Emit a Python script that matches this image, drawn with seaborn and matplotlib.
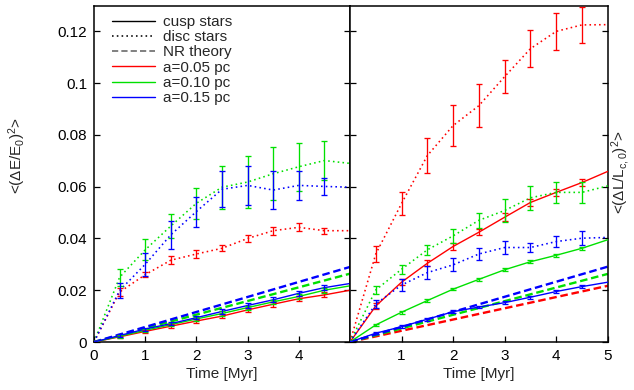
import numpy as np
import pandas as pd
import matplotlib
matplotlib.use("Agg")
import matplotlib.pyplot as plt
from matplotlib.lines import Line2D
import seaborn as sns

# ---- data -------------------------------------------------------------
time = [0.0, 0.5, 1.0, 1.5, 2.0, 2.5, 3.0, 3.5, 4.0, 4.5, 5.0]
theory_time = [0.0, 5.0]
radii = ["a=0.05 pc", "a=0.10 pc", "a=0.15 pc"]

# <(dE/E0)^2>, cusp stars
dE_cusp_005 = [0, 0.0020, 0.0041, 0.0061, 0.0081, 0.0100, 0.0124, 0.0146, 0.0167, 0.0182, 0.0200]
dE_cusp_010 = [0, 0.0022, 0.0045, 0.0067, 0.0089, 0.0110, 0.0133, 0.0155, 0.0176, 0.0200, 0.0217]
dE_cusp_015 = [0, 0.0025, 0.0050, 0.0071, 0.0094, 0.0118, 0.0141, 0.0163, 0.0188, 0.0210, 0.0226]
dE_cusp_err = [0, 0.0006, 0.0006, 0.0007, 0.0007, 0.0008, 0.0008, 0.0009, 0.0009, 0.0010, 0]

# <(dE/E0)^2>, disc stars
dE_disc_005 = [0, 0.0193, 0.0260, 0.0316, 0.0340, 0.0362, 0.0400, 0.0430, 0.0443, 0.0430, 0.0430]
dE_disc_010 = [0, 0.0250, 0.0356, 0.0448, 0.0536, 0.0598, 0.0618, 0.0650, 0.0677, 0.0701, 0.0690]
dE_disc_015 = [0, 0.0199, 0.0300, 0.0414, 0.0504, 0.0590, 0.0605, 0.0587, 0.0605, 0.0601, 0.0598]
dE_disc_005_err = [0, 0.0015, 0.0009, 0.0015, 0.0015, 0.0012, 0.0015, 0.0015, 0.0015, 0.0012, 0]
dE_disc_010_err = [0, 0.0032, 0.0040, 0.0045, 0.0060, 0.0083, 0.0100, 0.0102, 0.0092, 0.0075, 0]
dE_disc_015_err = [0, 0.0030, 0.0045, 0.0054, 0.0058, 0.0070, 0.0074, 0.0075, 0.0055, 0.0034, 0]

# <(dE/E0)^2>, non-resonant relaxation theory (a=0.10 and a=0.15 pc)
dE_theory_010 = [0, 0.0264]
dE_theory_015 = [0, 0.0290]

# <(dL/Lc0)^2>, cusp stars
dL_cusp_005 = [0, 0.0139, 0.0231, 0.0304, 0.0369, 0.0424, 0.0482, 0.0539, 0.0578, 0.0616, 0.0659]
dL_cusp_010 = [0, 0.0066, 0.0115, 0.0160, 0.0204, 0.0242, 0.0279, 0.0310, 0.0335, 0.0362, 0.0395]
dL_cusp_015 = [0, 0.0034, 0.0059, 0.0088, 0.0117, 0.0135, 0.0152, 0.0173, 0.0195, 0.0214, 0.0231]
dL_cusp_005_err = [0, 0.0010, 0.0012, 0.0012, 0.0012, 0.0012, 0.0015, 0.0015, 0.0015, 0.0015, 0]
dL_cusp_err = [0, 0.0005, 0.0005, 0.0005, 0.0005, 0.0005, 0.0005, 0.0005, 0.0006, 0.0006, 0]

# <(dL/Lc0)^2>, disc stars
dL_disc_005 = [0, 0.0340, 0.0535, 0.0720, 0.0836, 0.0913, 0.1025, 0.1133, 0.1200, 0.1225, 0.1226]
dL_disc_010 = [0, 0.0201, 0.0281, 0.0356, 0.0410, 0.0470, 0.0508, 0.0557, 0.0578, 0.0578, 0.0603]
dL_disc_015 = [0, 0.0147, 0.0220, 0.0268, 0.0298, 0.0340, 0.0365, 0.0365, 0.0388, 0.0401, 0.0404]
dL_disc_005_err = [0, 0.0030, 0.0045, 0.0068, 0.0078, 0.0084, 0.0064, 0.0072, 0.0071, 0.0071, 0]
dL_disc_010_err = [0, 0.0017, 0.0018, 0.0020, 0.0027, 0.0030, 0.0046, 0.0046, 0.0042, 0.0042, 0]
dL_disc_015_err = [0, 0.0017, 0.0022, 0.0025, 0.0025, 0.0025, 0.0026, 0.0018, 0.0020, 0.0027, 0]

# <(dL/Lc0)^2>, non-resonant relaxation theory
dL_theory_005 = [0, 0.0217]
dL_theory_010 = [0, 0.0263]
dL_theory_015 = [0, 0.0291]

# ---- style ------------------------------------------------------------
sns.set_theme(style="white")
plt.rcParams["font.family"] = ["Liberation Sans", "DejaVu Sans"]
plt.rcParams["mathtext.fontset"] = "custom"
plt.rcParams["mathtext.rm"] = "Liberation Sans"
plt.rcParams["mathtext.it"] = "Liberation Sans"
FS = 11

palette = dict(zip(radii, ["#ff0000", "#00e000", "#0000ff"]))
DOT = (1.0, 2.0)
DASH = (3.2, 1.6)


def long_frame(t, labels, series):
    rows = []
    for label, vals in zip(labels, series):
        for x, y in zip(t, vals):
            rows.append({"time": x, "value": y, "radius": label})
    return pd.DataFrame(rows)


def draw_panel(ax, cusp, cusp_err, disc, disc_err, theory_labels, theory):
    # theory (dashed) underneath
    sns.lineplot(data=long_frame(theory_time, theory_labels, theory),
                 x="time", y="value", hue="radius", palette=palette,
                 legend=False, ax=ax, linewidth=1.7, errorbar=None, zorder=1)
    for ln in ax.lines:
        ln.set_dashes(DASH)
    # cusp stars (solid)
    sns.lineplot(data=long_frame(time, radii, cusp), x="time", y="value",
                 hue="radius", palette=palette, legend=False, ax=ax,
                 linewidth=1.0, errorbar=None, zorder=3)
    n1 = len(ax.lines)
    # disc stars (dotted)
    sns.lineplot(data=long_frame(time, radii, disc), x="time", y="value",
                 hue="radius", palette=palette, legend=False, ax=ax,
                 linewidth=1.15, errorbar=None, zorder=3)
    for ln in ax.lines[n1:]:
        ln.set_dashes(DOT)
    # error bars at the sampled times
    for vals_set, errs_set in ((cusp, cusp_err), (disc, disc_err)):
        for label, vals, errs in zip(radii, vals_set, errs_set):
            t = np.array(time[1:-1])
            v = np.array(vals[1:-1])
            e = np.array(errs[1:-1])
            ax.errorbar(t, v, yerr=e, fmt="none", ecolor=palette[label],
                        elinewidth=0.95, capsize=2.4, capthick=0.95, zorder=4)


fig = plt.figure(figsize=(6.34, 3.90), dpi=100)
ax1 = fig.add_axes([94 / 634, 1 - 342 / 390, 256 / 634, 336.5 / 390])
ax2 = fig.add_axes([350 / 634, 1 - 342 / 390, 257.7 / 634, 336.5 / 390])

draw_panel(ax1, [dE_cusp_005, dE_cusp_010, dE_cusp_015],
           [dE_cusp_err] * 3,
           [dE_disc_005, dE_disc_010, dE_disc_015],
           [dE_disc_005_err, dE_disc_010_err, dE_disc_015_err],
           radii[1:], [dE_theory_010, dE_theory_015])
draw_panel(ax2, [dL_cusp_005, dL_cusp_010, dL_cusp_015],
           [dL_cusp_005_err, dL_cusp_err, dL_cusp_err],
           [dL_disc_005, dL_disc_010, dL_disc_015],
           [dL_disc_005_err, dL_disc_010_err, dL_disc_015_err],
           radii, [dL_theory_005, dL_theory_010, dL_theory_015])

yticks = [0, 0.02, 0.04, 0.06, 0.08, 0.1, 0.12]
ylabels = ["0", "0.02", "0.04", "0.06", "0.08", "0.1", "0.12"]
for ax in (ax1, ax2):
    ax.set_xlim(0, 5)
    ax.set_ylim(0, 0.13)
    ax.set_yticks(yticks)
    ax.set_xlabel("Time [Myr]", fontsize=FS, labelpad=3)
    ax.set_ylabel("")
    for sp in ax.spines.values():
        sp.set_color("black")
        sp.set_linewidth(1.1)
    ax.tick_params(axis="both", direction="in", length=4.5, width=0.9,
                   labelsize=FS, colors="black", pad=5)
    ax.tick_params(axis="y", left=True, right=True)
    ax.tick_params(axis="x", bottom=True, top=False)

ax1.set_xticks([0, 1, 2, 3, 4])
ax1.set_yticklabels(ylabels)
ax2.set_xticks([1, 2, 3, 4, 5])
ax2.set_yticklabels([])

fig.text(17 / 634, 1 - 156 / 390, "<(ΔE/E$_0$)$^2$>", rotation=90,
         ha="center", va="center", fontsize=FS)
fig.text(621 / 634, 1 - 172 / 390, "<(ΔL/L$_{c,0}$)$^2$>", rotation=90,
         ha="center", va="center", fontsize=FS)

handles = [
    Line2D([], [], color="black", lw=1.0),
    Line2D([], [], color="black", lw=1.15, dashes=DOT),
    Line2D([], [], color="#808080", lw=1.4, dashes=DASH),
    Line2D([], [], color=palette[radii[0]], lw=1.0),
    Line2D([], [], color=palette[radii[1]], lw=1.0),
    Line2D([], [], color=palette[radii[2]], lw=1.0),
]
labels = ["cusp stars", "disc stars", "NR theory"] + radii
fig.legend(handles, labels, loc="upper left",
           bbox_to_anchor=(112 / 634, 1 - 15 / 390), frameon=False,
           fontsize=FS, handlelength=2.8, handletextpad=0.52,
           labelspacing=0.08, borderpad=0, borderaxespad=0)

fig.savefig("out.png", dpi=100)
